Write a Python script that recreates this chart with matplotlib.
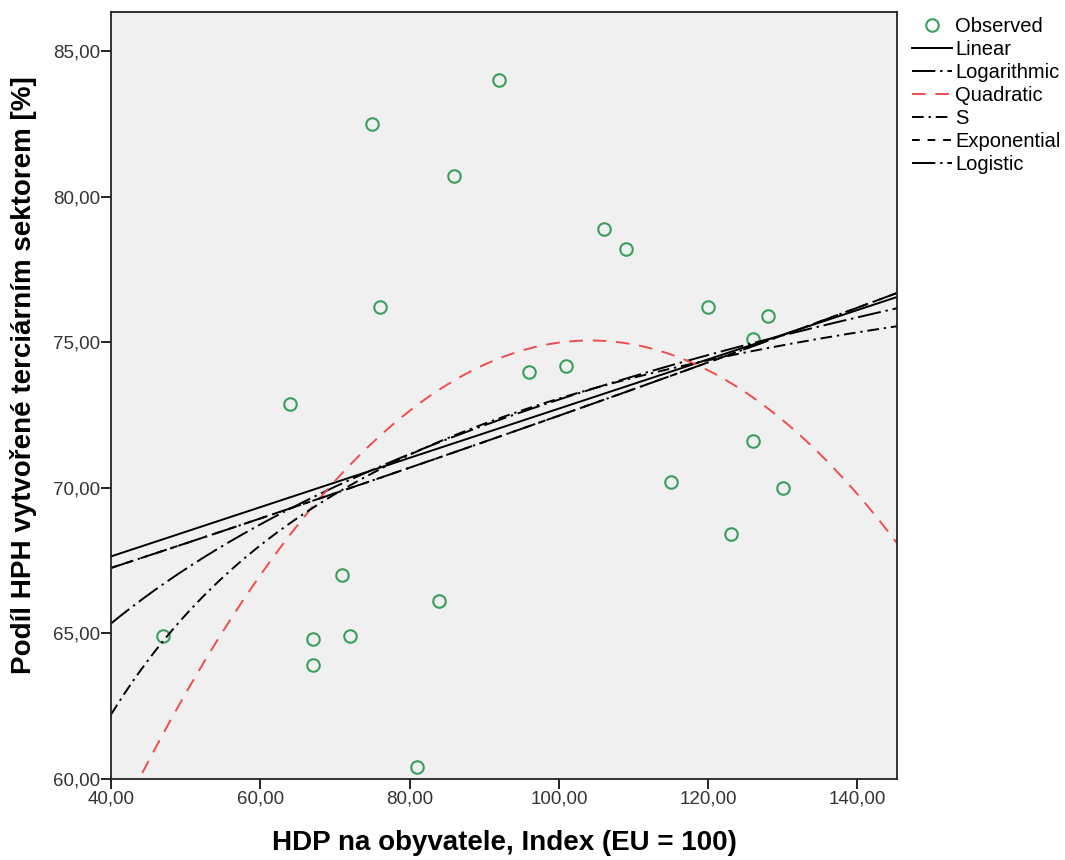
import numpy as np
import matplotlib
matplotlib.use("Agg")
import matplotlib.pyplot as plt
from matplotlib.ticker import FuncFormatter, MultipleLocator

plt.rcParams['font.family'] = ['Liberation Sans', 'DejaVu Sans']

# GDP per capita (EU = 100) and tertiary-sector share of gross value added [%]
hdp = [47, 64, 67, 67, 71, 72, 75, 76, 81, 84, 86, 92, 96, 101, 106, 109,
       115, 120, 123, 126, 126, 128, 130]
podil = [64.9, 72.9, 64.8, 63.9, 67.0, 64.9, 82.5, 76.2, 60.4, 66.1, 80.7,
         84.0, 74.0, 74.2, 78.9, 78.2, 70.2, 76.2, 68.4, 75.1, 71.6, 75.9, 70.0]

x_label = "HDP na obyvatele, Index (EU = 100)"
y_label = "Podíl HPH vytvořené terciárním sektorem [%]"
legend_labels = ["Observed", "Linear", "Logarithmic", "Quadratic", "S",
                 "Exponential", "Logistic"]

x = np.array(hdp, dtype=float)
y = np.array(podil, dtype=float)

# Curve estimation models
lin = np.polyfit(x, y, 1)
logm = np.polyfit(np.log(x), y, 1)
quad = np.polyfit(x, y, 2)
s_m = np.polyfit(1.0 / x, np.log(y), 1)
expm = np.polyfit(x, np.log(y), 1)
logi = np.polyfit(x, np.log(1.0 / y), 1)

xs = np.linspace(40, 145.3, 400)
curves = {
    "Linear": np.polyval(lin, xs),
    "Logarithmic": np.polyval(logm, np.log(xs)),
    "Quadratic": np.polyval(quad, xs),
    "S": np.exp(np.polyval(s_m, 1.0 / xs)),
    "Exponential": np.exp(np.polyval(expm, xs)),
    "Logistic": 1.0 / np.exp(np.polyval(logi, xs)),
}
styles = {
    "Linear": dict(color="black", linestyle="-"),
    "Logarithmic": dict(color="black", linestyle=(0, (12, 2.5, 1.2, 2.5))),
    "Quadratic": dict(color="#f04c4c", linestyle=(0, (7, 5))),
    "S": dict(color="black", linestyle=(0, (6, 2.5, 1.2, 2.5))),
    "Exponential": dict(color="black", linestyle=(0, (4, 4))),
    "Logistic": dict(color="black", linestyle=(0, (12, 2.5, 1.2, 2.5))),
}

fig = plt.figure(figsize=(10.65, 8.6), dpi=100)
ax = fig.add_axes([0.1042, 0.0942, 0.7381, 0.8918])
ax.set_facecolor("#f0f0f0")

handles = []
h_obs, = ax.plot(x, y, linestyle="none", marker="o", markersize=9,
                 markerfacecolor="none", markeredgecolor="#3a9e5c",
                 markeredgewidth=1.5, label=legend_labels[0])
handles.append(h_obs)
for name in legend_labels[1:]:
    h, = ax.plot(xs, curves[name], linewidth=1.4, label=name, **styles[name])
    handles.append(h)

ax.set_xlim(40, 145.3)
ax.set_ylim(60, 86.35)
ax.xaxis.set_major_locator(MultipleLocator(20))
ax.yaxis.set_major_locator(MultipleLocator(5))
fmt = FuncFormatter(lambda v, p: f"{v:.2f}".replace(".", ","))
ax.xaxis.set_major_formatter(fmt)
ax.yaxis.set_major_formatter(fmt)
ax.tick_params(direction="out", length=7, width=1.2, colors="black",
               labelcolor="#333333", labelsize=13.5, pad=1)

for sp in ax.spines.values():
    sp.set_linewidth(1.3)
    sp.set_color("#222222")

ax.set_xlabel(x_label, fontsize=20, fontweight="bold")
ax.set_ylabel(y_label, fontsize=20, fontweight="bold")
ax.xaxis.set_label_coords(0.5, -0.066)
ax.yaxis.set_label_coords(-0.094, 0.527)

leg = ax.legend(handles=handles, loc="upper left", bbox_to_anchor=(1.006, 1.007),
                frameon=False, fontsize=14.5, handlelength=2.0, handletextpad=0.15,
                labelspacing=0.2, borderaxespad=0.3, borderpad=0.2)

fig.savefig("out.png", dpi=100, facecolor="white")
